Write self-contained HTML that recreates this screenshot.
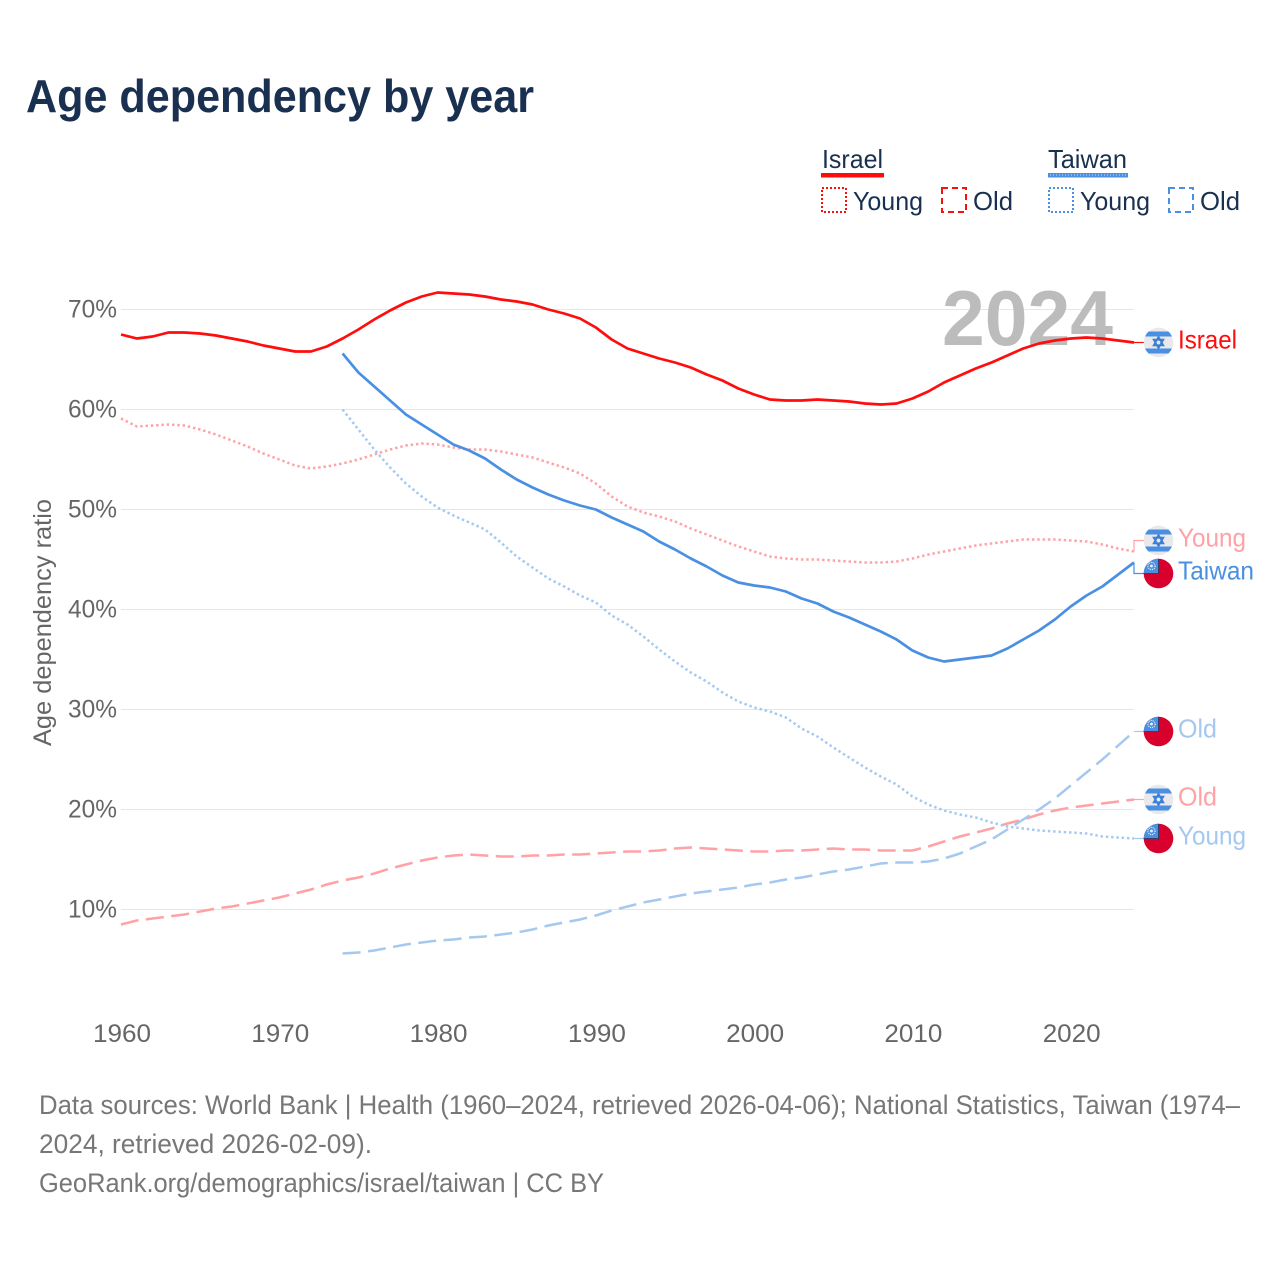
<!DOCTYPE html>
<html lang="en">
<head>
<meta charset="utf-8">
<title>Age dependency by year</title>
<style>
html,body{margin:0;padding:0;background:#fff;width:1280px;height:1280px;overflow:hidden}
svg{display:block}
text{font-family:"Liberation Sans",sans-serif}
</style>
</head>
<body>
<svg id="chart" xmlns="http://www.w3.org/2000/svg" width="1280" height="1280" viewBox="0 0 1280 1280">
  <defs>
    <clipPath id="flag-clip"><circle cx="0" cy="0" r="14.8"/></clipPath>
    <g id="flag-il">
      <g clip-path="url(#flag-clip)">
        <rect x="-15" y="-15" width="30" height="30" fill="#e9e9ec"/>
        <rect x="-15" y="-11" width="30" height="5" fill="#4a90e2"/>
        <rect x="-15" y="6" width="30" height="5" fill="#4a90e2"/>
        <rect x="-15" y="-15" width="30" height="4" fill="#e9e9ec"/>
        <polygon points="0,-5.5 4.8,2.8 -4.8,2.8" fill="none" stroke="#3b7fd6" stroke-width="1.8"/>
        <polygon points="0,5.5 4.8,-2.8 -4.8,-2.8" fill="none" stroke="#3b7fd6" stroke-width="1.8"/>
      </g>
    </g>
    <g id="flag-tw">
      <g clip-path="url(#flag-clip)">
        <rect x="-15" y="-15" width="30" height="30" fill="#d8002c"/>
        <rect x="-15" y="-15" width="15" height="15" fill="#4a90e2"/>
        <path d="M0,-15V0H-15" fill="none" stroke="#1e3a66" stroke-width="0.8"/>
        <circle cx="-7" cy="-7.5" r="3.6" fill="none" stroke="#fff" stroke-width="1.2" stroke-dasharray="1 1" opacity="0.9"/>
        <circle cx="-7" cy="-7.5" r="1.4" fill="#fff" opacity="0.9"/>
      </g>
    </g>
  </defs>

  <text x="26" y="112" font-size="46" font-weight="700" fill="#1a3050" textLength="508" lengthAdjust="spacingAndGlyphs">Age dependency by year</text>

  <g fill="#1a3050" font-size="26">
    <g>
      <text x="822" y="168" textLength="61" lengthAdjust="spacingAndGlyphs">Israel</text>
      <rect x="821" y="173" width="63" height="4.5" fill="#ff0d0d"/>
      <rect x="822" y="188" width="24" height="24" fill="none" stroke="#ff0d0d" stroke-width="2" stroke-dasharray="2 2"/>
      <text x="853" y="210" textLength="70" lengthAdjust="spacingAndGlyphs">Young</text>
      <rect x="942" y="188" width="24" height="24" fill="none" stroke="#ff0d0d" stroke-width="2" stroke-dasharray="6 4"/>
      <text x="973" y="210" textLength="40" lengthAdjust="spacingAndGlyphs">Old</text>
    </g>
    <g>
      <text x="1048" y="168" textLength="79" lengthAdjust="spacingAndGlyphs">Taiwan</text>
      <rect x="1048" y="173" width="80" height="4.5" fill="#4a90e2"/>
      <line x1="1050" y1="175" x2="1126" y2="175" stroke="#cfe2f8" stroke-width="1" stroke-dasharray="1 2"/>
      <rect x="1049" y="188" width="24" height="24" fill="none" stroke="#4a90e2" stroke-width="2" stroke-dasharray="2 2"/>
      <text x="1080" y="210" textLength="70" lengthAdjust="spacingAndGlyphs">Young</text>
      <rect x="1169" y="188" width="24" height="24" fill="none" stroke="#4a90e2" stroke-width="2" stroke-dasharray="6 4"/>
      <text x="1200" y="210" textLength="40" lengthAdjust="spacingAndGlyphs">Old</text>
    </g>
  </g>

  <g id="grid"></g>
  <text x="942" y="345" font-size="78" font-weight="700" fill="#bcbcbc" textLength="171" lengthAdjust="spacingAndGlyphs">2024</text>
  <g id="y-ticks"></g>
  <g id="x-ticks"></g>
  <text transform="translate(51,622.5) rotate(-90)" text-anchor="middle" font-size="25" fill="#666" textLength="247" lengthAdjust="spacingAndGlyphs">Age dependency ratio</text>
  <g id="series"></g>
  <g id="end-labels"></g>

  <g font-size="26.5" fill="#777">
    <text x="39" y="1114" textLength="1201" lengthAdjust="spacingAndGlyphs">Data sources: World Bank | Health (1960–2024, retrieved 2026-04-06); National Statistics, Taiwan (1974–</text>
    <text x="39" y="1153" textLength="333" lengthAdjust="spacingAndGlyphs">2024, retrieved 2026-02-09).</text>
    <text x="39" y="1192" textLength="565" lengthAdjust="spacingAndGlyphs">GeoRank.org/demographics/israel/taiwan | CC BY</text>
  </g>
</svg>

<script>
const yTickValues = [70, 60, 50, 40, 30, 20, 10];
const xTickYears = [1960, 1970, 1980, 1990, 2000, 2010, 2020];

const israelStart = 1960;
const taiwanStart = 1974;

const israelTotal = [67.5,67.1,67.3,67.7,67.7,67.6,67.4,67.1,66.8,66.4,66.1,65.8,65.8,66.3,67.1,68.0,69.0,69.9,70.7,71.3,71.7,71.6,71.5,71.3,71.0,70.8,70.5,70.0,69.6,69.1,68.2,67.0,66.1,65.6,65.1,64.7,64.2,63.5,62.9,62.1,61.5,61.0,60.9,60.9,61.0,60.9,60.8,60.6,60.5,60.6,61.1,61.8,62.7,63.4,64.1,64.7,65.4,66.1,66.6,66.9,67.1,67.2,67.1,66.9,66.7];
const israelYoung = [59.1,58.3,58.4,58.5,58.4,58.0,57.5,56.9,56.3,55.6,55.0,54.4,54.1,54.3,54.6,55.0,55.5,56.0,56.4,56.6,56.5,56.2,56.0,56.0,55.8,55.5,55.2,54.7,54.2,53.6,52.6,51.3,50.3,49.7,49.3,48.8,48.1,47.5,46.9,46.3,45.8,45.3,45.1,45.0,45.0,44.9,44.8,44.7,44.7,44.8,45.1,45.5,45.8,46.1,46.4,46.6,46.8,47.0,47.0,47.0,46.9,46.8,46.5,46.1,45.8];
const israelOld = [8.5,8.9,9.1,9.3,9.5,9.8,10.1,10.3,10.6,10.9,11.2,11.6,12.0,12.5,12.9,13.2,13.6,14.1,14.5,14.9,15.2,15.4,15.5,15.4,15.3,15.3,15.4,15.4,15.5,15.5,15.6,15.7,15.8,15.8,15.9,16.1,16.2,16.1,16.0,15.9,15.8,15.8,15.9,15.9,16.0,16.1,16.0,16.0,15.9,15.9,15.9,16.3,16.8,17.3,17.7,18.1,18.6,19.0,19.5,19.9,20.2,20.4,20.6,20.8,21.0];

const taiwanTotal = [65.6,63.7,62.3,60.9,59.5,58.5,57.5,56.5,55.9,55.1,54.0,53.0,52.2,51.5,50.9,50.4,50.0,49.2,48.5,47.8,46.8,46.0,45.1,44.3,43.4,42.7,42.4,42.2,41.8,41.1,40.6,39.8,39.2,38.5,37.8,37.0,35.9,35.2,34.8,35.0,35.2,35.4,36.1,37.0,37.9,39.0,40.3,41.4,42.3,43.5,44.7];
const taiwanYoung = [60.0,58.0,56.0,54.2,52.6,51.3,50.2,49.4,48.7,48.0,46.7,45.3,44.2,43.1,42.3,41.4,40.7,39.4,38.5,37.3,36.0,34.8,33.7,32.8,31.7,30.8,30.2,29.8,29.2,28.1,27.3,26.2,25.2,24.2,23.3,22.5,21.3,20.5,19.9,19.5,19.2,18.7,18.3,18.1,17.9,17.8,17.7,17.6,17.3,17.2,17.1];
const taiwanOld = [5.6,5.7,5.9,6.2,6.5,6.7,6.9,7.0,7.2,7.3,7.5,7.7,8.0,8.4,8.7,9.0,9.4,9.9,10.3,10.7,11.0,11.3,11.6,11.8,12.0,12.2,12.5,12.7,13.0,13.2,13.5,13.8,14.0,14.3,14.6,14.7,14.7,14.8,15.1,15.6,16.3,17.0,18.0,19.0,20.0,21.1,22.4,23.7,25.0,26.4,27.8];

const SVGNS = 'http://www.w3.org/2000/svg';
const xScale = function (year) { return 121 + (year - 1960) * (1134 - 121) / 64; };
const yScale = function (value) { return 1009.5 - value * 10; };

function svgEl(tag, parent) {
  const el = document.createElementNS(SVGNS, tag);
  parent.appendChild(el);
  return el;
}

const gridGroup = document.getElementById('grid');
const yTickGroup = document.getElementById('y-ticks');
yTickValues.forEach(function (v) {
  const line = svgEl('line', gridGroup);
  
  
  line.setAttribute('x1', 121);
  line.setAttribute('x2', 1134);
  line.setAttribute('y1', yScale(v));
  line.setAttribute('y2', yScale(v));
  line.setAttribute('stroke', '#e6e6e6');
  line.setAttribute('stroke-width', 1);
  const label = svgEl('text', yTickGroup);
  
  
  label.setAttribute('x', 117);
  label.setAttribute('y', yScale(v) + 8);
  label.setAttribute('text-anchor', 'end');
  label.setAttribute('font-size', 25);
  label.setAttribute('fill', '#666');
  label.setAttribute('textLength', 49);
  label.setAttribute('lengthAdjust', 'spacingAndGlyphs');
  label.textContent = v + '%';
});

const xTickGroup = document.getElementById('x-ticks');
xTickYears.forEach(function (yr) {
  const label = svgEl('text', xTickGroup);
  
  
  label.setAttribute('x', xScale(yr) + 1);
  label.setAttribute('y', 1042);
  label.setAttribute('text-anchor', 'middle');
  label.setAttribute('font-size', 25);
  label.setAttribute('fill', '#666');
  label.setAttribute('textLength', 58);
  label.setAttribute('lengthAdjust', 'spacingAndGlyphs');
  label.textContent = yr;
});

const RED = '#ff0d0d', BLUE = '#4a90e2', PALE_RED = '#ffa1a5', PALE_BLUE = '#a4c8f0';
const DOTTED = '2.4 2.9', DASHED = '18 7.5';

function drawLine(values, startYear, color, dash, name) {
  const path = svgEl('polyline', document.getElementById('series'));
  
  
  path.setAttribute('points', values.map(function (v, i) {
    return xScale(startYear + i).toFixed(2) + ',' + yScale(v).toFixed(2);
  }).join(' '));
  path.setAttribute('fill', 'none');
  path.setAttribute('stroke', color);
  path.setAttribute('stroke-width', dash ? 2.5 : 2.7);
  path.setAttribute('stroke-linejoin', 'round');
  if (dash) path.setAttribute('stroke-dasharray', dash);
}

drawLine(israelOld, israelStart, PALE_RED, DASHED, 'israel-old-line');
drawLine(taiwanOld, taiwanStart, PALE_BLUE, DASHED, 'taiwan-old-line');
drawLine(israelYoung, israelStart, PALE_RED, DOTTED, 'israel-young-line');
drawLine(taiwanYoung, taiwanStart, PALE_BLUE, DOTTED, 'taiwan-young-line');
drawLine(israelTotal, israelStart, RED, null, 'israel-total-line');
drawLine(taiwanTotal, taiwanStart, BLUE, null, 'taiwan-total-line');

const endEntries = [
  { label: 'Israel', flag: 'flag-il', color: RED, last: israelTotal[israelTotal.length - 1], w: 59 },
  { label: 'Young', flag: 'flag-il', color: PALE_RED, last: israelYoung[israelYoung.length - 1], w: 68 },
  { label: 'Taiwan', flag: 'flag-tw', color: BLUE, last: taiwanTotal[taiwanTotal.length - 1], w: 76 },
  { label: 'Old', flag: 'flag-tw', color: PALE_BLUE, last: taiwanOld[taiwanOld.length - 1], w: 39 },
  { label: 'Old', flag: 'flag-il', color: PALE_RED, last: israelOld[israelOld.length - 1], w: 39 },
  { label: 'Young', flag: 'flag-tw', color: PALE_BLUE, last: taiwanYoung[taiwanYoung.length - 1], w: 68 }
];
endEntries.sort(function (a, b) { return b.last - a.last; });
endEntries.forEach(function (e) { e.yRaw = yScale(e.last); e.yLab = e.yRaw; });
for (let i = 1; i < endEntries.length; i++) {
  const a = endEntries[i - 1], b = endEntries[i];
  if (b.yLab - a.yLab < 33) {
    const mid = (a.yLab + b.yLab) / 2;
    a.yLab = mid - 16.5;
    b.yLab = mid + 16.5;
  }
}
const endGroup = document.getElementById('end-labels');
endEntries.forEach(function (e) {
  const leader = svgEl('polyline', endGroup);
  
  
  leader.setAttribute('points', '1134,' + e.yRaw + ' 1134,' + e.yLab + ' 1146,' + e.yLab);
  leader.setAttribute('fill', 'none');
  leader.setAttribute('stroke', e.color);
  leader.setAttribute('stroke-width', 1.2);
  const flag = svgEl('use', endGroup);
  
  
  flag.setAttribute('href', '#' + e.flag);
  flag.setAttribute('x', 1158.5);
  flag.setAttribute('y', e.yLab);
  const label = svgEl('text', endGroup);
  
  
  label.setAttribute('x', 1178);
  label.setAttribute('y', e.yLab + 6);
  label.setAttribute('font-size', 26);
  label.setAttribute('fill', e.color);
  label.setAttribute('textLength', e.w);
  label.setAttribute('lengthAdjust', 'spacingAndGlyphs');
  label.textContent = e.label;
});
</script>
</body>
</html>
